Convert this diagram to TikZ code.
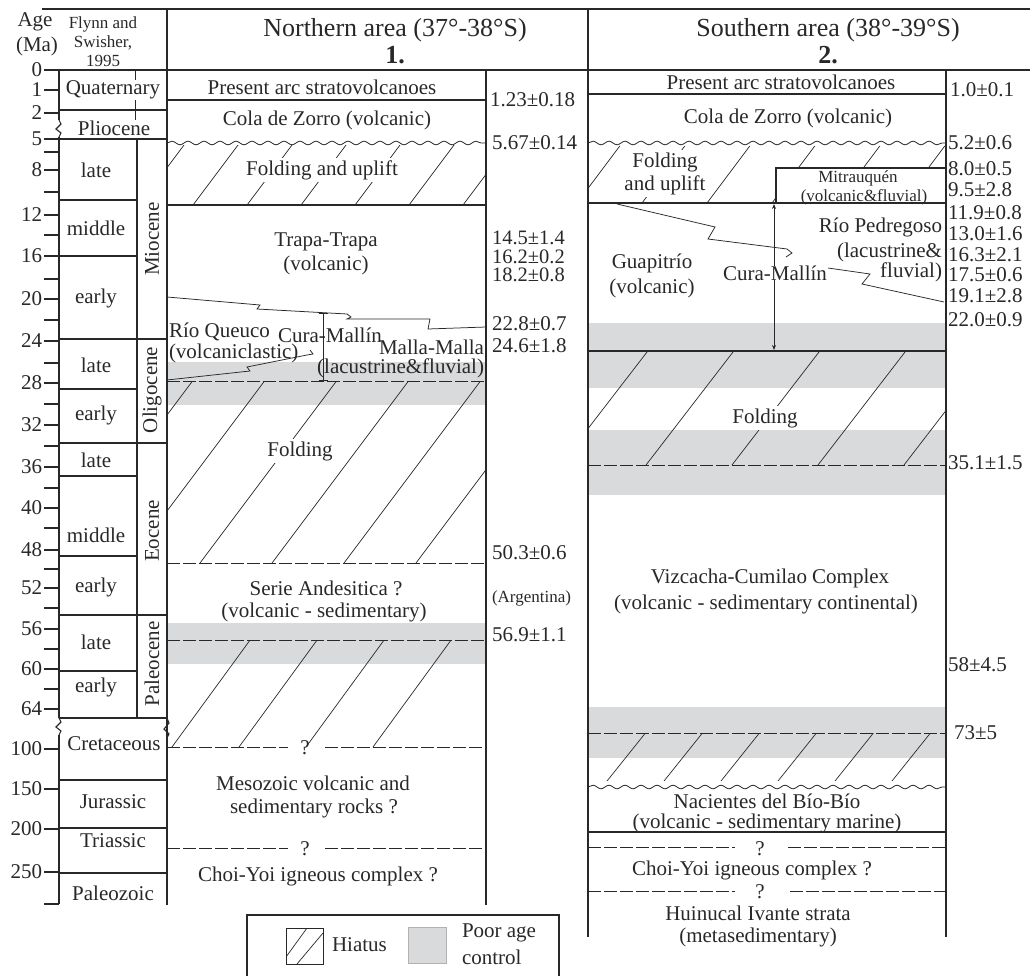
\documentclass[tikz,border=0pt]{standalone}
\usepackage{fontspec}
\setmainfont{Liberation Serif}
\usetikzlibrary{decorations.pathmorphing,arrows.meta}
\newcommand{\fsz}[1]{\fontsize{#1}{#1}\selectfont}
\definecolor{poorgray}{RGB}{217,218,220}
\definecolor{ink}{RGB}{40,40,40}
% clip path, bottom y, height, first bottom x, spacing, count, slope dx/dy
\newcommand{\hatchreg}[7]{\begin{scope}\clip #1;
  \foreach \k in {0,...,#6}{\draw[hatchln] ({#4+\k*#5},#2) -- ++({#7*#3},{-#3});}
  \end{scope}}
\begin{document}
\begin{tikzpicture}[x=1pt,y=-1pt,
  every node/.style={inner sep=0pt, outer sep=0pt, text=ink},
  txt/.style={font=\fsz{21}},
  dat/.style={font=\fsz{20.5}},
  sml/.style={font=\fsz{17}},
  hdr/.style={font=\fsz{26}},
  frame/.style={line width=1.1pt, draw=ink},
  thinln/.style={line width=0.75pt, draw=ink},
  dashln/.style={line width=0.9pt, draw=ink, dash pattern=on 13pt off 3pt},
  hatchln/.style={line width=0.7pt, draw=ink},
  wavy/.style={decorate, decoration={snake, amplitude=1.8pt, segment length=16pt}, line width=0.8pt, draw=ink},
  gap/.style={fill=white, inner sep=2pt},
]
\useasboundingbox (0,0) rectangle (1030,976);

% ---------- poor age control bands ----------
\fill[poorgray] (167,362) rectangle (486,405);
\fill[poorgray] (167,623) rectangle (486,664);
\fill[poorgray] (588,323) rectangle (946,388);
\fill[poorgray] (588,430) rectangle (946,495);
\fill[poorgray] (588,707) rectangle (946,758);

% ---------- hiatus hatching ----------
\hatchreg{(167,146) rectangle (486,205)}{205}{62}{139}{54}{6}{0.75}
\hatchreg{(167,381) rectangle (486,563)}{563}{182}{56}{72}{5}{0.75}
\hatchreg{(167,640) rectangle (486,747)}{747}{107}{172}{67}{3}{0.73}
\hatchreg{(588,146) -- (946,146) -- (946,168) -- (776,168) -- (776,203) -- (588,203) -- cycle}{203}{58}{577}{65}{5}{0.75}
\hatchreg{(588,351) rectangle (946,465)}{465}{114}{560}{86}{4}{0.77}
\hatchreg{(588,733) rectangle (946,781)}{781}{48}{607}{57}{5}{0.8}

% ---------- frame ----------
\draw[frame] (42,9) -- (1030,9);
\draw[frame] (59,70) -- (1030,70);
\draw[frame] (167,9) -- (167,905);
\draw[frame] (588,9) -- (588,937);
\draw[frame] (486,70) -- (486,905);
\draw[frame] (946,70) -- (946,937);
\draw[frame] (59,70) -- (59,120) (59,137) -- (59,718) (59,735) -- (59,904);
\draw[frame] (59,120) -- (61,124) -- (56,129) -- (61,133) -- (59,137);
\draw[frame] (59,718) -- (61,722) -- (56,727) -- (61,731) -- (59,735);
\draw[frame] (167,718) -- (169,723) -- (164,729) -- (169,734) -- (167,738);
\draw[frame] (137,139) -- (137,718);
\draw[thinln] (135,70) -- (135,80) (135,100) -- (135,120);

% age column boxes
\foreach \yy in {110,139,339,443,615,718,780,828,873}{\draw[frame] (59,\yy) -- (167,\yy);}
\foreach \yy in {200,256,389,476,556,671}{\draw[frame] (59,\yy) -- (137,\yy);}

% ticks
\foreach \yy/\lab in {70/0,90/1,113/2,139/5,170/8,215/12,256/16,299/20,341/24,383/28,425/32,467/36,508/40,550/48,588/52,629/56,669/60,709/64,749/100,789/150,829/200,872/250}{
  \draw[frame] (44,\yy) -- (59,\yy);
  \node[txt, anchor=east] (age\lab) at (42,\yy) {\lab};}
\foreach \yy in {152,192,235,279,320,363,404,446,488,528,569,608,649,689,904}{\draw[frame] (44,\yy) -- (59,\yy);}

% header texts
\node[txt] (agehd) at (35,22) {Age};
\node[txt] (mahd) at (37,46) {(Ma)};
\node[sml] (fl1) at (103,24) {Flynn and};
\node[sml] (fl2) at (103,43) {Swisher,};
\node[sml] (fl3) at (103,61) {1995};
\node[hdr] (nhead) at (395,30) {Northern area (37°-38°S)};
\node[hdr, font=\fsz{26}\bfseries] (nnum) at (395,55) {1.};
\node[hdr] (shead) at (828,30) {Southern area (38°-39°S)};
\node[hdr, font=\fsz{26}\bfseries] (snum) at (828,55) {2.};

% periods
\node[txt] (quat) at (113,90) {Quaternary};
\node[txt] (plio) at (114,128) {Pliocene};
\node[txt] (mlate) at (96,170) {late};
\node[txt] (mmid) at (96,228) {middle};
\node[txt] (mearly) at (96,298) {early};
\node[txt] (olate) at (96,365) {late};
\node[txt] (oearly) at (96,415) {early};
\node[txt] (elate) at (96,460) {late};
\node[txt] (emid) at (96,535) {middle};
\node[txt] (eearly) at (96,587) {early};
\node[txt] (plate) at (96,642) {late};
\node[txt] (pearly) at (96,687) {early};
\node[txt, rotate=90] (mio) at (152,239) {Miocene};
\node[txt, rotate=90] (oli) at (152,390) {Oligocene};
\node[txt, rotate=90] (eoc) at (152,531) {Eocene};
\node[txt, rotate=90] (pal) at (152,664) {Paleocene};
\node[txt] (cret) at (114,744) {Cretaceous};
\node[txt] (jur) at (113,802) {Jurassic};
\node[txt] (tri) at (113,841) {Triassic};
\node[txt] (pzo) at (113,893) {Paleozoic};

% ---------- Northern area ----------
\draw[frame] (167,100) -- (486,100);
\draw[wavy] (167,143) -- (486,143);
\draw[frame] (167,205) -- (486,205);
\draw[thinln] (167,297) -- (260,305) -- (257,309) -- (347,314) -- (351,317) -- (347,319) -- (430,319) -- (428,329) -- (486,327);
\draw[thinln] (167,380) -- (250,371) -- (247,367) -- (307,355) -- (313,354) -- (310,350);
\draw[dashln] (167,381) -- (486,381);
\draw[dashln] (167,563) -- (486,563);
\draw[dashln] (167,640) -- (486,640);
\draw[dashln] (167,747) -- (288,747) (325,747) -- (486,747);
\draw[dashln] (167,848) -- (288,848) (325,848) -- (486,848);
\draw[thinln, {Bar[width=9pt]}-{Bar[width=9pt]}] (323,313) -- (323,381);

\node[txt] (npres) at (322,87) {Present arc stratovolcanoes};
\node[txt] (ncola) at (327,120) {Cola de Zorro (volcanic)};
\node[txt, gap] (nfold1) at (322,170) {Folding and uplift};
\node[txt] (ntrapa) at (326,242) {Trapa-Trapa};
\node[txt] (ntrapa2) at (326,265) {(volcanic)};
\node[txt, anchor=west] (nrq) at (169,332) {Río Queuco};
\node[txt, anchor=west] (nrq2) at (169,353) {(volcaniclastic)};
\node[txt] (ncm) at (330,335) {Cura-Mallín};
\node[txt, anchor=east] (nmm) at (484,347) {Malla-Malla};
\node[txt, anchor=east] (nmm2) at (484,368) {(lacustrine\&fluvial)};
\node[txt, gap] (nfold2) at (300,451) {Folding};
\node[txt] (nser) at (326,588) {Serie Andesitica ?};
\node[txt] (nser2) at (324,612) {(volcanic - sedimentary)};
\node[txt] (nq1) at (305,748) {?};
\node[txt] (nmeso) at (313,783) {Mesozoic volcanic and};
\node[txt] (nmeso2) at (314,808) {sedimentary rocks ?};
\node[txt] (nq2) at (305,849) {?};
\node[txt] (nchoi) at (318,876) {Choi-Yoi igneous complex ?};

\node[txt, anchor=west] (nd1) at (490,100) {1.23±0.18};
\node[txt, anchor=west] (nd2) at (492,143) {5.67±0.14};
\node[dat, anchor=west] (nd3) at (492,238) {14.5±1.4};
\node[dat, anchor=west] (nd4) at (492,256.5) {16.2±0.2};
\node[dat, anchor=west] (nd5) at (492,275) {18.2±0.8};
\node[txt, anchor=west] (nd6) at (492,324) {22.8±0.7};
\node[txt, anchor=west] (nd7) at (492,346) {24.6±1.8};
\node[txt, anchor=west] (nd8) at (492,553) {50.3±0.6};
\node[sml, anchor=west] (nd9) at (492,598) {(Argentina)};
\node[txt, anchor=west] (nd10) at (492,635) {56.9±1.1};

% ---------- Southern area ----------
\draw[frame] (588,94) -- (946,94);
\draw[wavy] (588,143) -- (946,143);
\draw[frame] (776,203) -- (776,168) -- (946,168);
\draw[frame] (588,203) -- (946,203);
\draw[frame] (588,351) -- (946,351);
\draw[dashln] (588,465) -- (946,465);
\draw[dashln] (588,733) -- (946,733);
\draw[wavy] (588,787) -- (946,787);
\draw[frame] (588,832) -- (946,832);
\draw[dashln] (588,847) -- (735,847) (788,847) -- (946,847);
\draw[dashln] (588,891) -- (735,891) (790,891) -- (946,891);
\draw[thinln] (617,204) -- (715,227) -- (708,239) -- (787,249) -- (792,253) -- (786,257);
\draw[thinln] (828,268) -- (870,274) -- (862,284) -- (944,302);

\node[txt] (spres) at (781,82) {Present arc stratovolcanoes};
\node[txt] (scola) at (788,118) {Cola de Zorro (volcanic)};
\node[txt, gap] (sfold1) at (665,162) {Folding};
\node[txt, gap] (sfold1b) at (665,185) {and uplift};
\node[sml] (smit) at (858,178) {Mitrauquén};
\node[sml] (smit2) at (864,197) {(volcanic\&fluvial)};
\node[txt, anchor=east] (srp) at (942,227) {Río Pedregoso};
\node[txt, anchor=east] (srp2) at (942,252) {(lacustrine\&};
\node[txt, anchor=east] (srp3) at (942,272) {fluvial)};
\node[txt] (sgua) at (652,263) {Guapitrío};
\node[txt] (sgua2) at (652,288) {(volcanic)};
\node[txt] (scm) at (775,273) {Cura-Mallín};
\draw[thinln, -{Stealth[length=5pt,width=4pt]}] (scm.north -| 774,0) -- (774,204);
\draw[thinln, -{Stealth[length=5pt,width=4pt]}] (scm.south -| 774,0) -- (774,350);
\node[txt, gap] (sfold2) at (765,418) {Folding};
\node[txt] (sviz) at (770,578) {Vizcacha-Cumilao Complex};
\node[txt] (sviz2) at (766,604) {(volcanic - sedimentary continental)};
\node[txt] (snac) at (767,801) {Nacientes del Bío-Bío};
\node[txt] (snac2) at (767,823) {(volcanic - sedimentary marine)};
\node[txt] (sq1) at (760,849) {?};
\node[txt] (schoi) at (752,870) {Choi-Yoi igneous complex ?};
\node[txt] (sq2) at (760,892) {?};
\node[txt] (shui) at (758,913) {Huinucal Ivante strata};
\node[txt] (shui2) at (758,937) {(metasedimentary)};

\node[txt, anchor=west] (sd1) at (950,90) {1.0±0.1};
\node[txt, anchor=west] (sd2) at (948,143) {5.2±0.6};
\node[txt, anchor=west] (sd3) at (948,169) {8.0±0.5};
\node[txt, anchor=west] (sd4) at (948,190) {9.5±2.8};
\node[txt, anchor=west] (sd5) at (948,213) {11.9±0.8};
\node[txt, anchor=west] (sd6) at (948,234) {13.0±1.6};
\node[txt, anchor=west] (sd7) at (948,255) {16.3±2.1};
\node[txt, anchor=west] (sd8) at (948,275) {17.5±0.6};
\node[txt, anchor=west] (sd9) at (948,296) {19.1±2.8};
\node[txt, anchor=west] (sd10) at (948,320) {22.0±0.9};
\node[txt, anchor=west] (sd11) at (948,463) {35.1±1.5};
\node[txt, anchor=west] (sd12) at (948,665) {58±4.5};
\node[txt, anchor=west] (sd13) at (954,733) {73±5};

% ---------- legend ----------
\draw[frame] (247,990) -- (247,915) -- (559,915) -- (559,990);
\draw[thinln] (286,928) rectangle (323,964);
\begin{scope}
\clip (286,928) rectangle (323,964);
\draw[hatchln] (286,957) -- (307,928);
\draw[hatchln] (297,964) -- (323,933);
\end{scope}
\node[txt, anchor=west] (lhia) at (332,945) {Hiatus};
\draw[fill=poorgray, draw=black!30, line width=0.8pt] (408,927) rectangle (446,963);
\node[txt, anchor=west] (lpoor) at (462,933) {Poor age};
\node[txt, anchor=west] (lpoor2) at (462,957) {control};
\end{tikzpicture}
\end{document}
